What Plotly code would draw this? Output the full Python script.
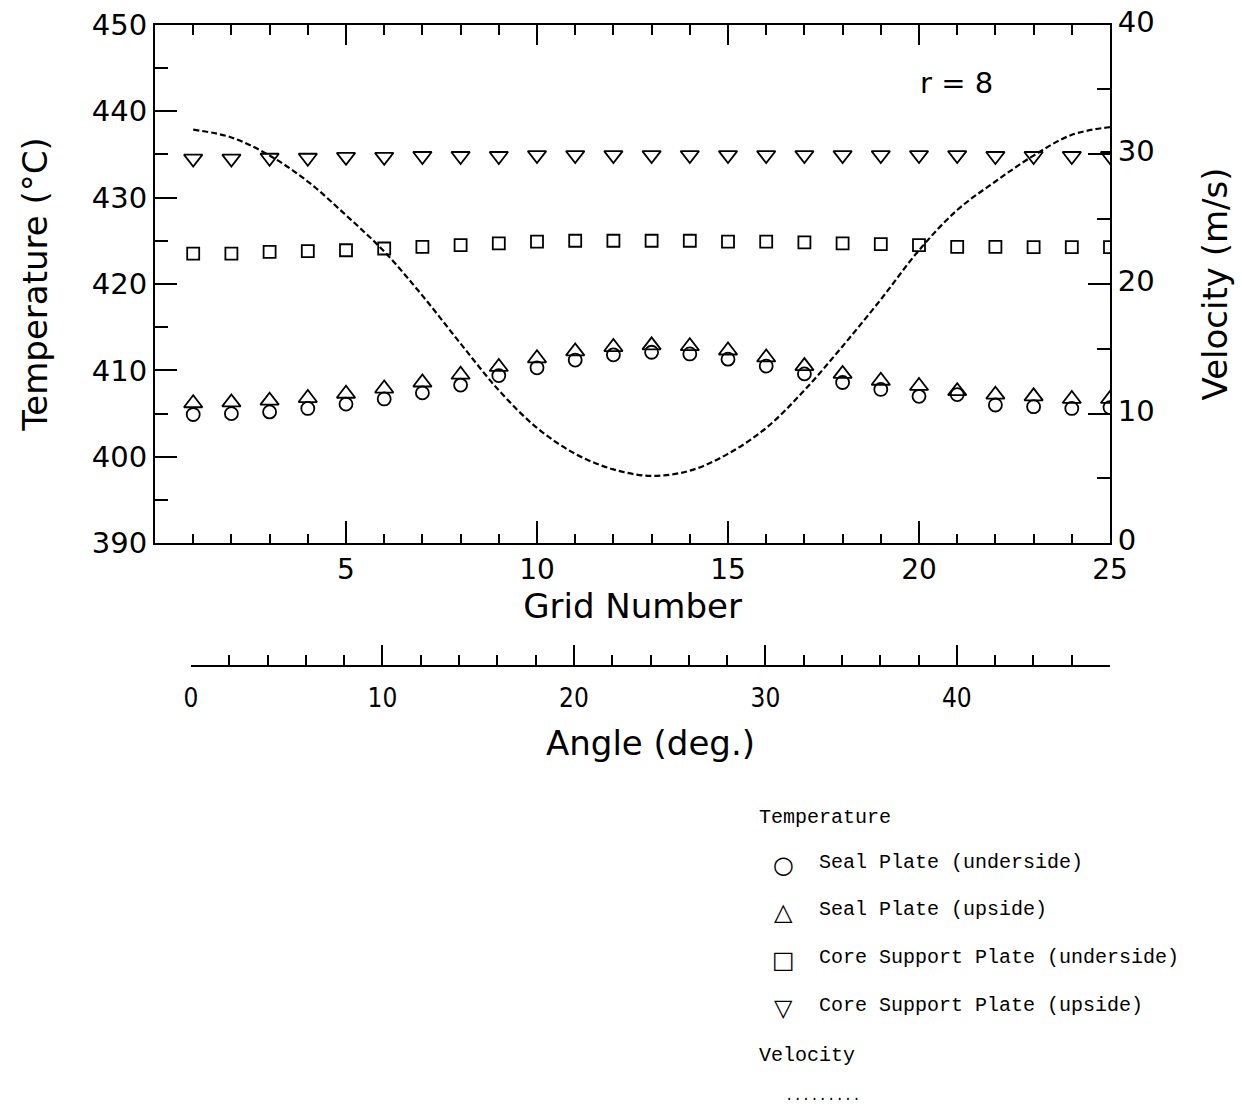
import plotly.graph_objects as go

W, H = 1242, 1108

# Grid positions and measured quantities
grid = list(range(1, 26))
seal_under = [404.9, 405.0, 405.2, 405.6, 406.1, 406.7, 407.4, 408.3, 409.4, 410.3,
              411.2, 411.8, 412.1, 411.9, 411.3, 410.5, 409.6, 408.6, 407.8, 407.0,
              407.2, 406.0, 405.8, 405.6, 405.7]
seal_up = [406.2, 406.3, 406.5, 406.8, 407.3, 407.9, 408.6, 409.5, 410.4, 411.4,
           412.2, 412.7, 412.9, 412.8, 412.3, 411.5, 410.5, 409.6, 408.8, 408.2,
           407.6, 407.2, 407.0, 406.7, 406.7]
core_under = [423.5, 423.5, 423.7, 423.8, 423.9, 424.1, 424.3, 424.5, 424.7, 424.9,
              425.0, 425.0, 425.0, 425.0, 424.9, 424.9, 424.8, 424.7, 424.6, 424.5,
              424.3, 424.3, 424.25, 424.25, 424.25]
core_up = [434.5, 434.5, 434.6, 434.6, 434.7, 434.7, 434.8, 434.8, 434.8, 434.9,
           434.9, 434.9, 434.9, 434.9, 434.9, 434.9, 434.9, 434.9, 434.9, 434.9,
           434.9, 434.8, 434.8, 434.8, 434.8]
velocity = [31.9, 31.3, 29.9, 27.9, 25.3, 22.5, 19.1, 15.4, 11.8, 8.9,
            6.9, 5.7, 5.2, 5.6, 6.9, 8.9, 11.8, 15.2, 18.8, 22.6,
            25.7, 27.9, 29.9, 31.5, 32.1]

# Axis tick positions
temp_ticks = [390, 400, 410, 420, 430, 440, 450]
temp_minor = [395, 405, 415, 425, 435, 445]
vel_ticks = [0, 10, 20, 30, 40]
vel_minor = [5, 15, 25, 35]
grid_ticks = [5, 10, 15, 20, 25]
grid_minor = [g for g in range(1, 25) if g % 5]
angle_ticks = [0, 10, 20, 30, 40]
angle_minor = [a for a in range(2, 49, 2) if a % 10]
angle_max = 48

series_names = ["Seal Plate (underside)", "Seal Plate (upside)",
                "Core Support Plate (underside)", "Core Support Plate (upside)"]


def px(x):
    return x / W


def py(y):
    return 1 - y / H


SANS = "DejaVu Sans"
MONO = "Liberation Mono"
INK = "black"

fig = go.Figure()

marker_line = dict(color=INK, width=1.8)
fig.add_trace(go.Scatter(x=grid, y=seal_under, mode="markers", name=series_names[0],
                         marker=dict(symbol="circle-open", size=13, line=marker_line, color=INK)))
fig.add_trace(go.Scatter(x=grid, y=seal_up, mode="markers", name=series_names[1],
                         marker=dict(symbol="triangle-up-open", size=16, line=marker_line, color=INK)))
fig.add_trace(go.Scatter(x=grid, y=core_under, mode="markers", name=series_names[2],
                         marker=dict(symbol="square-open", size=12, line=marker_line, color=INK)))
fig.add_trace(go.Scatter(x=grid, y=core_up, mode="markers", name=series_names[3],
                         marker=dict(symbol="triangle-down-open", size=16, line=marker_line, color=INK)))
fig.add_trace(go.Scatter(x=grid, y=velocity, mode="lines", name="Velocity", yaxis="y2",
                         line=dict(color=INK, width=2.2, dash="6px,3px", shape="spline")))
# top frame axis and the secondary angle scale below the grid axis
fig.add_trace(go.Scatter(x=[], y=[], xaxis="x2", yaxis="y", showlegend=False))
fig.add_trace(go.Scatter(x=[], y=[], xaxis="x3", yaxis="y3", showlegend=False))

axis_common = dict(showline=True, linecolor=INK, linewidth=2, ticks="inside",
                   tickcolor=INK, tickwidth=1.5, showgrid=False, zeroline=False,
                   automargin=False, color=INK)


def minor_ticks(vals, length):
    return dict(tickmode="array", tickvals=vals, ticks="inside", ticklen=length,
                tickcolor=INK, tickwidth=1.5, showgrid=False)


grid_domain = [px(155), px(1110)]

fig.update_layout(
    width=W, height=H,
    margin=dict(l=0, r=0, t=0, b=0),
    paper_bgcolor="white", plot_bgcolor="white",
    showlegend=False,
    font=dict(family=SANS, color=INK),
    xaxis=dict(
        **axis_common, domain=grid_domain, range=[0, 25],
        tickmode="array", tickvals=grid_ticks, ticklen=22,
        minor=minor_ticks(grid_minor, 9),
        tickfont=dict(size=28, family=SANS), ticklabelstandoff=0,
        title=dict(text="Grid Number", font=dict(size=34, family=SANS), standoff=6),
    ),
    # top edge of the frame
    xaxis2=dict(
        **axis_common, domain=grid_domain, range=[0, 25], overlaying="x", side="top",
        anchor="y", tickmode="array", tickvals=grid_ticks, ticklen=20,
        minor=minor_ticks(grid_minor, 10), showticklabels=False,
    ),
    yaxis=dict(
        **axis_common, domain=[py(543.3), py(24.6)], range=[390, 450],
        tickmode="array", tickvals=temp_ticks, ticklen=22,
        minor=minor_ticks(temp_minor, 13),
        tickfont=dict(size=29, family=SANS),
        title=dict(text="Temperature (°C)", font=dict(size=34, family=SANS), standoff=34),
    ),
    yaxis2=dict(
        **axis_common, overlaying="y", side="right", anchor="x", range=[0, 40],
        tickmode="array", tickvals=vel_ticks, ticklen=22,
        minor=minor_ticks(vel_minor, 13),
        tickfont=dict(size=29, family=SANS), ticklabelshift=-3,
        title=dict(text="Velocity (m/s)", font=dict(size=34, family=SANS), standoff=50),
    ),
    xaxis3=dict(
        **axis_common, domain=[px(191), px(1110)], range=[0, angle_max], anchor="y3",
        tickmode="array", tickvals=angle_ticks, ticklen=20,
        minor=minor_ticks(angle_minor + [angle_max], 10),
        tickfont=dict(size=26, family="DejaVu Sans Condensed, DejaVu Sans"),
        ticklabelstandoff=9,
        title=dict(text="Angle (deg.)", font=dict(size=34, family=SANS), standoff=19),
    ),
    yaxis3=dict(domain=[py(665), py(640)], anchor="x3", visible=False, range=[0, 1]),
)

annotations = [
    dict(text="r = 8", x=px(956), y=py(83), xanchor="center", yanchor="middle",
         font=dict(size=29, family=SANS)),
    dict(text="Temperature", x=px(757), y=py(817), xanchor="left", yanchor="middle",
         font=dict(size=20, family=MONO)),
    dict(text="Velocity", x=px(757), y=py(1055), xanchor="left", yanchor="middle",
         font=dict(size=20, family=MONO)),
    dict(text=".........", x=px(783), y=py(1096), xanchor="left", yanchor="middle",
         font=dict(size=14, family=MONO)),
]
key_glyphs = ["○", "△", "□", "▽"]
key_rows = [865, 912, 960, 1008]
for glyph, name, row in zip(key_glyphs, series_names, key_rows):
    annotations.append(dict(text=glyph, x=px(783), y=py(row), xanchor="center", yanchor="middle",
                            font=dict(size=24, family=SANS)))
    annotations.append(dict(text=name, x=px(817), y=py(row - 3), xanchor="left", yanchor="middle",
                            font=dict(size=20, family=MONO)))

fig.update_layout(annotations=[dict(a, xref="paper", yref="paper", showarrow=False)
                               for a in annotations])

fig.write_html("out.html")
